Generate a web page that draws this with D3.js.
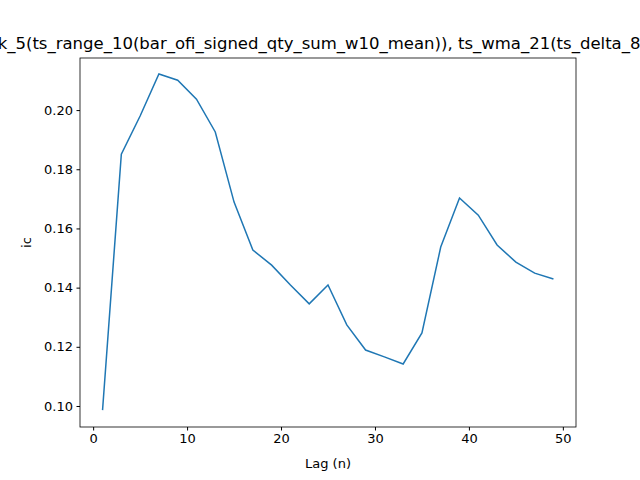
<!DOCTYPE html>
<html><head><meta charset="utf-8">
<script src="https://cdn.jsdelivr.net/npm/d3@7"></script>
<style>body{margin:0;background:#fff;overflow:hidden}svg{font-family:"DejaVu Sans",sans-serif}</style>
</head><body><div id="chart"></div>
<script>
const lags = [1,3,5,7,9,11,13,15,17,19,21,23,25,27,29,31,33,35,37,39,41,43,45,47,49];
const ic = [0.0986,0.1851,0.1980,0.2122,0.2101,0.2037,0.1926,0.1689,0.1527,0.1476,0.1409,0.1345,0.1409,0.1274,0.1189,0.1166,0.1142,0.1247,0.1537,0.1703,0.1645,0.1544,0.1486,0.1449,0.1429];
const xTicks = [0,10,20,30,40,50];
const yTicks = [0.10,0.12,0.14,0.16,0.18,0.20];
const title = "ic(ts_rank_5(ts_range_10(bar_ofi_signed_qty_sum_w10_mean)), ts_wma_21(ts_delta_8(sell_qty)))";

const W = 640, H = 480, m = {top:58, right:64, bottom:53, left:80};
const w = W - m.left - m.right, h = H - m.top - m.bottom;
const svg = d3.select('#chart').append('svg').attr('width', W).attr('height', H);
const g = svg.append('g').attr('transform', `translate(${m.left},${m.top})`);

const x = d3.scaleLinear().domain([-1.4, 51.4]).range([0, w]);
const y = d3.scaleLinear().domain([0.0929, 0.2176]).range([h, 0]);

g.append('path').datum(lags.map((l, i) => [l, ic[i]]))
  .attr('fill', 'none').attr('stroke', '#1f77b4').attr('stroke-width', 1.5)
  .attr('d', d3.line().x(d => x(d[0])).y(d => y(d[1])));

const xa = g.append('g').attr('transform', `translate(0,${h})`)
  .call(d3.axisBottom(x).tickValues(xTicks).tickSize(3.5).tickPadding(3.5).tickFormat(d3.format('d')));
const ya = g.append('g')
  .call(d3.axisLeft(y).tickValues(yTicks).tickSize(3.5).tickPadding(3.5).tickFormat(d3.format('.2f')));
[xa, ya].forEach(a => {
  a.selectAll('text').attr('font-size', 13).attr('fill', '#000').attr('font-family', 'DejaVu Sans');
  a.select('.domain').remove();
});
g.append('rect').attr('width', w).attr('height', h).attr('fill', 'none').attr('stroke', '#000').attr('stroke-width', 0.8);

g.append('text').attr('x', w / 2).attr('y', h + 41).attr('text-anchor', 'middle').attr('font-size', 13).text('Lag (n)');
g.append('text').attr('transform', `translate(-49,${h / 2}) rotate(-90)`).attr('text-anchor', 'middle').attr('font-size', 13).text('ic');
g.append('text').attr('x', w / 2).attr('y', -9).attr('text-anchor', 'middle').attr('font-size', 16.5).text(title);
</script></body></html>
